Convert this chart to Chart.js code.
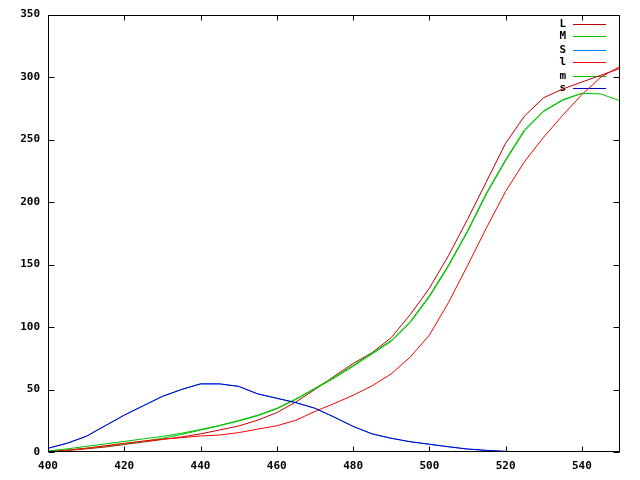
<!DOCTYPE html>
<html>
<head>
<meta charset="utf-8">
<script src="https://cdn.jsdelivr.net/npm/chart.js@4.4.0/dist/chart.umd.min.js"></script>
<style>
  html, body { margin: 0; padding: 0; background: #fff; }
</style>
</head>
<body>
<canvas id="myChart" width="640" height="480"></canvas>
<script>
// wavelength (nm)
const wavelengths = [400, 405, 410, 415, 420, 425, 430, 435, 440, 445, 450, 455, 460, 465, 470,
  475, 480, 485, 490, 495, 500, 505, 510, 515, 520, 525, 530, 535, 540, 545, 550];

const L = [0.3, 1.2, 2.5, 4.0, 6.0, 8.0, 10.0, 12.0, 14.5, 17.6, 20.8, 25.5, 31.5, 40.0, 50.0,
  60.5, 70.8, 79.5, 91.5, 110, 131, 157, 186, 216.5, 247, 269, 283.5, 290.5, 296, 301.5, 307];
const M = [0.5, 1.5, 3.0, 4.8, 6.5, 8.5, 11.0, 14.0, 17.5, 21.0, 24.8, 29.0, 34.5, 42.0, 50.5,
  59.0, 68.5, 78.4, 88.5, 103.5, 124, 148.5, 176, 206.5, 233, 257, 272.5, 281.5, 287, null, null];
const S = [3.0, 7.0, 12.5, 21, 29.5, 37, 44.5, 50, 54.5, 54.5, 52.5, 46.5, 43, 39.5, 35,
  28, 20.5, 14.5, 11, 8.2, 6.2, 4.2, 2.4, 1.3, 0.5, 0.2, 0.1, 0.05, 0, null, null];
const l = [0.3, 1.5, 3.0, 5.0, 7.0, 8.8, 10.3, 11.5, 12.8, 13.6, 15.5, 18.3, 21.0, 25.4, 32.5,
  38.7, 45.4, 53.0, 62.5, 76, 93.5, 119.5, 149, 179.5, 208.5, 232.5, 252, 269.5, 286, 300, 308.5];
const m = [0.8, 2.5, 4.5, 6.5, 8.5, 10.5, 12.5, 15.0, 18.0, 21.3, 25.2, 29.5, 35.0, 42.5, 51.0,
  59.8, 69.3, 79.2, 89.3, 104.5, 125, 149.5, 177, 207.5, 234, 258, 273, 282, 287, 286.5, 281];
const s = [3.0, 7.0, 12.5, 21, 29.5, 37, 44.5, 50, 54.5, 54.5, 52.5, 46.5, 43, 39.5, 35,
  28, 20.5, 14.5, 11, 8.2, 6.2, 4.2, 2.4, 1.3, 0.5, 0.2, 0.1, 0.05, 0, null, null];

const xTicks = [400, 420, 440, 460, 480, 500, 520, 540];
const yTicks = [0, 50, 100, 150, 200, 250, 300, 350];

const FONT = "bold 11px 'DejaVu Sans Mono', monospace";

function pts(vals) {
  const out = [];
  vals.forEach((v, i) => { if (v !== null) out.push({ x: wavelengths[i], y: v }); });
  return out;
}

function series(label, vals, color, order) {
  return {
    label: label,
    data: pts(vals),
    borderColor: color,
    backgroundColor: color,
    borderWidth: 1,
    pointRadius: 0,
    tension: 0,
    fill: false,
    order: order
  };
}

// gnuplot-like frame, inward ticks and key
const frame = {
  id: "frame",
  beforeDatasetsDraw(chart) {
    const ctx = chart.ctx;
    ctx.save();
    ctx.font = FONT;
    ctx.textAlign = "right";
    ctx.textBaseline = "middle";
    const rowY = [24, 36, 50, 62, 76, 88];
    chart.data.datasets.forEach((ds, i) => {
      const y = rowY[i];
      ctx.fillStyle = "#000";
      ctx.fillText(ds.label, 566, y);
      ctx.fillStyle = ds.borderColor;
      ctx.fillRect(573, y, 33, 1);
    });
    ctx.restore();
  },
  afterDraw(chart) {
    const ctx = chart.ctx;
    const a = chart.chartArea;
    const xs = chart.scales.x, ys = chart.scales.y;
    ctx.save();
    ctx.strokeStyle = "#000";
    ctx.lineWidth = 1;
    const L0 = Math.round(a.left) + 0.5, R0 = Math.round(a.right) - 0.5;
    const T0 = Math.round(a.top) + 0.5, B0 = Math.round(a.bottom) - 0.5;
    ctx.strokeRect(L0, T0, R0 - L0, B0 - T0);
    ctx.beginPath();
    xTicks.forEach(v => {
      const px = Math.round(xs.getPixelForValue(v)) + 0.5;
      ctx.moveTo(px, B0); ctx.lineTo(px, B0 - 5);
      ctx.moveTo(px, T0); ctx.lineTo(px, T0 + 5);
    });
    yTicks.forEach(v => {
      const py = Math.round(ys.getPixelForValue(v)) + 0.5;
      ctx.moveTo(L0, py); ctx.lineTo(L0 + 6, py);
      ctx.moveTo(R0, py); ctx.lineTo(R0 - 6, py);
    });
    ctx.stroke();
    ctx.restore();
  }
};

const ctx = document.getElementById("myChart").getContext("2d");

new Chart(ctx, {
  type: "line",
  data: {
    datasets: [
      series("L", L, "#c00000", 6),
      series("M", M, "#00c000", 5),
      series("S", S, "#0080ff", 4),
      series("l", l, "#ff0000", 3),
      series("m", m, "#00c000", 2),
      series("s", s, "#0000c0", 1)
    ]
  },
  options: {
    responsive: false,
    animation: false,
    layout: { padding: { top: 14, right: 20, bottom: 0, left: 0 } },
    plugins: {
      legend: { display: false },
      tooltip: { enabled: false }
    },
    scales: {
      x: {
        type: "linear",
        min: 400,
        max: 550,
        afterBuildTicks: sc => { sc.ticks = xTicks.map(v => ({ value: v })); },
        afterFit: sc => { sc.height = 28; },
        grid: { display: false, drawTicks: false },
        border: { display: false },
        ticks: {
          padding: 8,
          color: "#000",
          maxRotation: 0,
          autoSkip: false,
          font: { family: "'DejaVu Sans Mono', monospace", size: 11, weight: "bold" }
        }
      },
      y: {
        min: 0,
        max: 350,
        afterBuildTicks: sc => { sc.ticks = yTicks.map(v => ({ value: v })); },
        afterFit: sc => { sc.width = 48; },
        grid: { display: false, drawTicks: false },
        border: { display: false },
        ticks: {
          padding: 8,
          color: "#000",
          autoSkip: false,
          font: { family: "'DejaVu Sans Mono', monospace", size: 11, weight: "bold" }
        }
      }
    }
  },
  plugins: [frame]
});
</script>
</body>
</html>
